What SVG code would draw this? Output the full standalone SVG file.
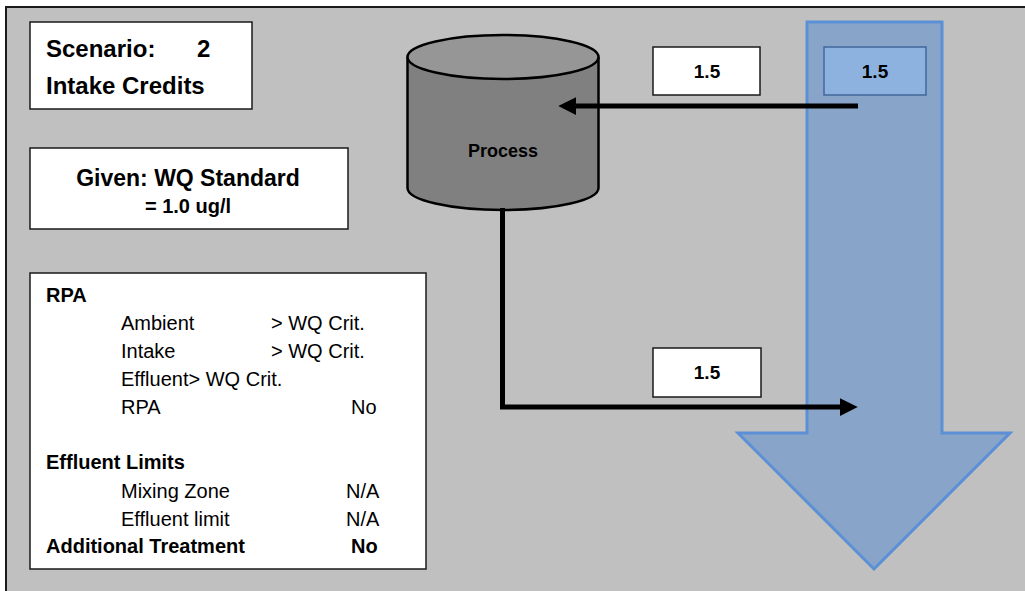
<svg xmlns="http://www.w3.org/2000/svg" width="1025" height="591" viewBox="0 0 1025 591">
  <style>
    .panel { fill: #c0c0c0; stroke: #1a1a1a; stroke-width: 2; }
    .box { fill: #ffffff; stroke: #1a1a1a; stroke-width: 1.5; }
    .t { font-family: "Liberation Sans", Arial, sans-serif; fill: #000000; }
    .b { font-weight: bold; }
    .val { font-family: "Liberation Sans", Arial, sans-serif; font-weight: bold; font-size: 19px; text-anchor: middle; }
    .row { font-size: 20px; }
    .flow { fill: none; stroke: #000000; stroke-width: 5; }
  </style>
  <defs>
    <marker id="head" markerUnits="userSpaceOnUse" markerWidth="18" markerHeight="18" viewBox="0 0 16 16" refX="2" refY="8" orient="auto">
      <path d="M0,0 L16,8 L0,16 Z" fill="#000000"/>
    </marker>
  </defs>

  <rect width="1025" height="591" fill="#ffffff"/>
  <rect class="panel" x="6" y="7" width="1030" height="600"/>

  <!-- receiving water: large downward arrow -->
  <g id="stream">
    <path d="M807,22 H942 V433 H1010 L874,569 L738,433 H807 Z" fill="#88a5c9" stroke="#5b8fd6" stroke-width="3"/>
  </g>

  <!-- title box -->
  <g id="scenario">
    <rect class="box" x="30" y="22" width="222" height="87"/>
    <text class="t b" x="46" y="57" font-size="24">Scenario:</text>
    <text class="t b" x="197" y="57" font-size="24">2</text>
    <text class="t b" x="46" y="94" font-size="24">Intake Credits</text>
  </g>

  <!-- standard box -->
  <g id="standard">
    <rect class="box" x="30" y="148" width="318" height="81"/>
    <text class="t b" x="188" y="186" font-size="23" text-anchor="middle">Given: WQ Standard</text>
    <text class="t b" x="188" y="213" font-size="20" text-anchor="middle">= 1.0 ug/l</text>
  </g>

  <!-- reasonable potential analysis summary -->
  <g id="rpa">
    <rect class="box" x="30" y="273" width="396" height="296"/>
    <text class="t b row" x="46" y="302">RPA</text>
    <text class="t row" x="121" y="330">Ambient</text>
    <text class="t row" x="271" y="330">&gt; WQ Crit.</text>
    <text class="t row" x="121" y="358">Intake</text>
    <text class="t row" x="271" y="358">&gt; WQ Crit.</text>
    <text class="t row" x="121" y="386">Effluent&gt; WQ Crit.</text>
    <text class="t row" x="121" y="414">RPA</text>
    <text class="t row" x="351" y="414">No</text>
    <text class="t b row" x="46" y="469">Effluent Limits</text>
    <text class="t row" x="121" y="498">Mixing Zone</text>
    <text class="t row" x="346" y="498">N/A</text>
    <text class="t row" x="121" y="526">Effluent limit</text>
    <text class="t row" x="346" y="526">N/A</text>
    <text class="t b row" x="46" y="553">Additional Treatment</text>
    <text class="t b row" x="351" y="553">No</text>
  </g>

  <!-- process tank -->
  <g id="process">
    <path d="M407.5,57 V188 A95.5,22 0 0 0 598.5,188 V57" fill="#808080" stroke="#000000" stroke-width="2.5"/>
    <ellipse cx="503" cy="57" rx="95.5" ry="22" fill="#969696" stroke="#000000" stroke-width="2.5"/>
    <text class="t b" x="503" y="157" font-size="18" text-anchor="middle">Process</text>
  </g>

  <!-- flow values -->
  <g id="intake-value">
    <rect class="box" x="653" y="47" width="107" height="48"/>
    <text class="val" x="707" y="78">1.5</text>
  </g>
  <g id="ambient-value">
    <rect x="824" y="47" width="102" height="48" fill="#8eb2e0" stroke="#41679a" stroke-width="1.5"/>
    <text class="val" x="875" y="78">1.5</text>
  </g>
  <g id="effluent-value">
    <rect class="box" x="653" y="348" width="108" height="49"/>
    <text class="val" x="707" y="379">1.5</text>
  </g>

  <!-- connectors -->
  <g id="connectors">
    <path class="flow" d="M858,106 H574" marker-end="url(#head)"/>
    <path class="flow" d="M502.5,208 V407 H842" stroke-linejoin="miter" marker-end="url(#head)"/>
  </g>
</svg>
